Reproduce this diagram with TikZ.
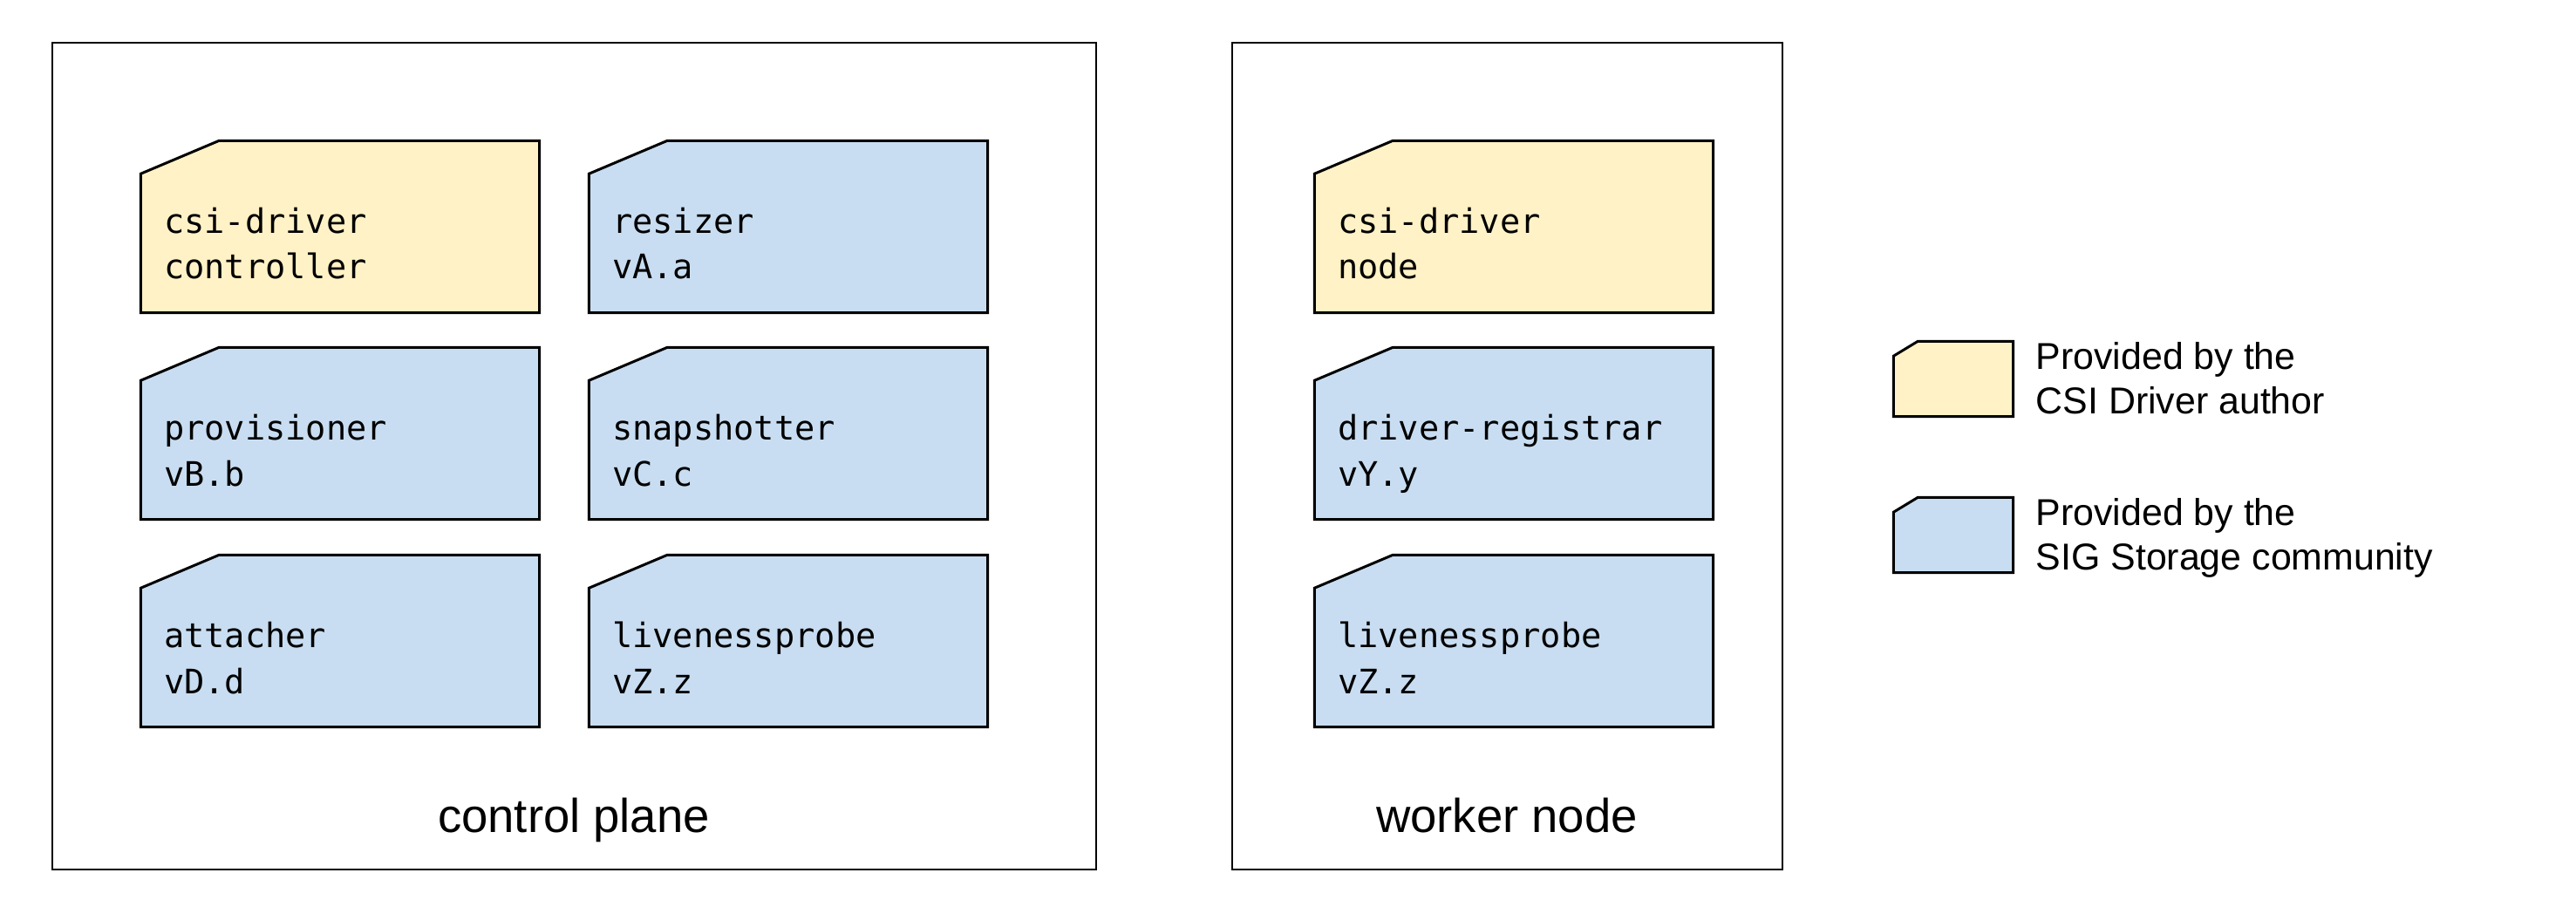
\documentclass[tikz,border=0pt]{standalone}
\usepackage{fontspec}
\setmainfont{Liberation Sans}
\newfontfamily\monofont{DejaVu Sans Mono}
\usetikzlibrary{calc,backgrounds}
\definecolor{drvyellow}{HTML}{FFF2C6}
\definecolor{sigblue}{HTML}{C8DDF1}

% outline with the top-left corner cut off: node, fill, cut x, cut y
\newcommand{\cutcard}[4]{%
	\draw[line width=0.85pt,fill=#2] (#1.south west) -- ($(#1.north west)+(0,-#4)$)
		-- ($(#1.north west)+(#3,0)$) -- (#1.north east) -- (#1.south east) -- cycle;}

\begin{document}
\begin{tikzpicture}
		\useasboundingbox (0,0) rectangle (29.54,10.40);
		\begin{scope}[every node/.style={draw,line width=0.7pt,inner sep=0pt,minimum height=9.48cm}]
			\node[minimum width=11.97cm] (cp) at (6.585,5.17) {};
			\node[minimum width=6.31cm] (wn) at (17.285,5.17) {};
		\end{scope}
		
		\begin{scope}[every node/.style={inner sep=0pt,minimum width=4.56cm,minimum height=1.96cm,
				text width=4.04cm,align=left,text height=0.4cm,text depth=0.24cm,
				font=\monofont\fontsize{11}{14.8}\selectfont}]
			\node (ctrl) at (3.90,7.80) {csi-driver\\controller};
			\node (resz) at (9.04,7.80) {resizer\\vA.a};
			\node (prov) at (3.90,5.43) {provisioner\\vB.b};
			\node (snap) at (9.04,5.43) {snapshotter\\vC.c};
			\node (atch) at (3.90,3.05) {attacher\\vD.d};
			\node (lvp1) at (9.04,3.05) {livenessprobe\\vZ.z};
			\node (drv) at (17.36,7.80) {csi-driver\\node};
			\node (reg) at (17.36,5.43) {driver-registrar\\vY.y};
			\node (lvp2) at (17.36,3.05) {livenessprobe\\vZ.z};
		\end{scope}
		
		\node[anchor=base,font=\fontsize{15.5}{18}\selectfont] (cplbl) at (6.58,0.85) {control plane};
		\node[anchor=base,font=\fontsize{15.5}{18}\selectfont] (wnlbl) at (17.28,0.85) {worker node};
		
		% legend
		\begin{scope}[every node/.style={inner sep=0pt,minimum width=1.36cm,minimum height=0.85cm}]
			\node (key1) at (22.40,6.055) {};
			\node (key2) at (22.40,4.265) {};
		\end{scope}
		\node[anchor=north west,inner sep=0pt,align=left,font=\fontsize{12.2}{14.5}\selectfont] (txt1) at (23.34,6.48) {Provided by the\\CSI Driver author};
		\node[anchor=north west,inner sep=0pt,align=left,font=\fontsize{12.2}{14.5}\selectfont] (txt2) at (23.34,4.69) {Provided by the\\SIG Storage community};
		
		\begin{scope}[on background layer]
			\foreach \n/\c in {ctrl/drvyellow,drv/drvyellow,resz/sigblue,prov/sigblue,snap/sigblue,
					atch/sigblue,lvp1/sigblue,reg/sigblue,lvp2/sigblue}
				\cutcard{\n}{\c}{0.90}{0.38};
			\cutcard{key1}{drvyellow}{0.28}{0.17}
			\cutcard{key2}{sigblue}{0.28}{0.17}
		\end{scope}
		\end{tikzpicture}
\end{document}
